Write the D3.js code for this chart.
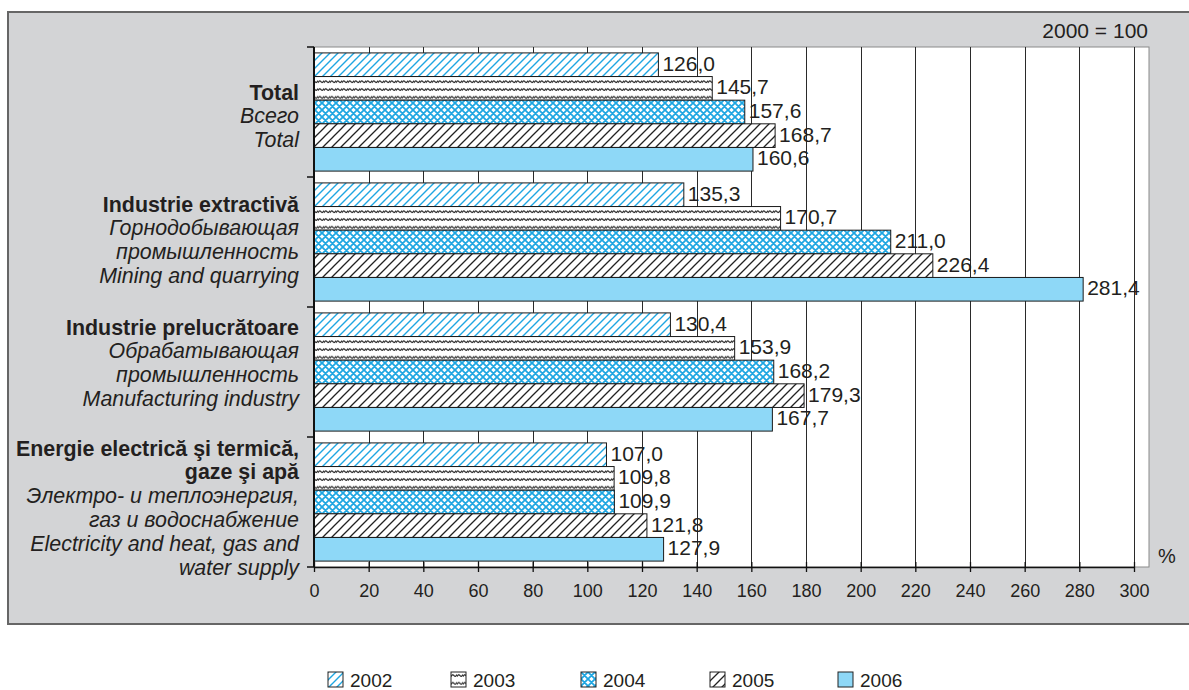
<!DOCTYPE html>
<html><head><meta charset="utf-8">
<script src="https://cdn.jsdelivr.net/npm/d3@7"></script>
<style>
html,body{margin:0;padding:0;background:#fff;}
svg{display:block;font-family:"Liberation Sans",Arial,Helvetica,sans-serif;}
</style></head>
<body>
<svg id="chart" width="1189" height="690"></svg>
<script>
// ---- data ----
const categories = ["Total", "Extractive", "Manufacturing", "Energy"];
const categoryLabels = [
  ["Total", "Всего", "Total"],
  ["Industrie extractivă", "Горнодобывающая", "промышленность", "Mining and quarrying"],
  ["Industrie prelucrătoare", "Обрабатывающая", "промышленность", "Manufacturing industry"],
  ["Energie electrică şi termică,", "gaze şi apă", "Электро- и теплоэнергия,", "газ и водоснабжение", "Electricity and heat, gas and", "water supply"]
];
const boldLineCount = [1, 1, 1, 2];
const years = ["2002", "2003", "2004", "2005", "2006"];
const values2002 = [126.0, 135.3, 130.4, 107.0];
const values2003 = [145.7, 170.7, 153.9, 109.8];
const values2004 = [157.6, 211.0, 168.2, 109.9];
const values2005 = [168.7, 226.4, 179.3, 121.8];
const values2006 = [160.6, 281.4, 167.7, 127.9];
const seriesValues = [values2002, values2003, values2004, values2005, values2006];
const xTicks = [0,20,40,60,80,100,120,140,160,180,200,220,240,260,280,300];
const baseNote = "2000 = 100";
const unitLabel = "%";

// ---- layout ----
const svg = d3.select("#chart");
const textColor = "#231f20";
const blue = "#1ea6e2";
const lightBlue = "#8ed8f7";

const defs = svg.append("defs");
// 2002: blue diagonal
const p1 = defs.append("pattern").attr("id","p2002").attr("patternUnits","userSpaceOnUse")
  .attr("width",8).attr("height",8);
p1.append("rect").attr("width",8).attr("height",8).attr("fill","#fff");
p1.append("path").attr("d","M-2,2 L2,-2 M0,8 L8,0 M6,10 L10,6").attr("stroke",blue).attr("stroke-width",1.4);
// 2003: black waves
const p2 = defs.append("pattern").attr("id","p2003").attr("patternUnits","userSpaceOnUse")
  .attr("width",6).attr("height",7.8);
p2.append("rect").attr("width",6).attr("height",7.8).attr("fill","#fff");
p2.append("path").attr("d","M0,4.5 Q1.5,1.5 3,3.5 T6,2.5").attr("stroke","#222").attr("stroke-width",1.2).attr("fill","none");
// 2004: blue crosshatch
const p3 = defs.append("pattern").attr("id","p2004").attr("patternUnits","userSpaceOnUse")
  .attr("width",7).attr("height",7);
p3.append("rect").attr("width",7).attr("height",7).attr("fill","#fff");
p3.append("path").attr("d","M-1,1 L1,-1 M0,7 L7,0 M6,8 L8,6 M-1,6 L1,8 M0,0 L7,7 M6,-1 L8,1")
  .attr("stroke",blue).attr("stroke-width",1.8);
// 2005: black diagonal
const p4 = defs.append("pattern").attr("id","p2005").attr("patternUnits","userSpaceOnUse")
  .attr("width",9).attr("height",9);
p4.append("rect").attr("width",9).attr("height",9).attr("fill","#fff");
p4.append("path").attr("d","M-2,2 L2,-2 M0,9 L9,0 M7,11 L11,7").attr("stroke","#222").attr("stroke-width",1.3);

const fills = ["url(#p2002)","url(#p2003)","url(#p2004)","url(#p2005)",lightBlue];

// gray panel
svg.append("rect").attr("x",8).attr("y",12).attr("width",1200).attr("height",612)
  .attr("fill","#d3d4d6").attr("stroke","#666").attr("stroke-width",2);

const x = d3.scaleLinear().domain([0,300]).range([314,1134]);
const y = d3.scaleBand().domain(categories).range([47,567]).padding(0);
const yInner = d3.scaleBand().domain(years).range([0,y.bandwidth()]).paddingInner(0).paddingOuter(0.25);

// plot area
svg.append("rect").attr("x",314).attr("y",47).attr("width",1149-314).attr("height",520)
  .attr("fill","#fff").attr("stroke","#8a8a8a").attr("stroke-width",1);

// grid
svg.append("g").selectAll("line").data(xTicks.filter(d=>d>0)).join("line")
  .attr("x1",d=>Math.round(x(d))+0.5).attr("x2",d=>Math.round(x(d))+0.5)
  .attr("y1",47).attr("y2",567).attr("stroke","#2a2a2a").attr("stroke-width",1);

// bars
const groups = svg.append("g").selectAll("g").data(categories).join("g")
  .attr("transform",d=>`translate(0,${y(d)})`);
years.forEach((yr,si)=>{
  groups.append("rect")
    .attr("x",x(0))
    .attr("y",yInner(yr))
    .attr("width",(d,ci)=>x(seriesValues[si][ci])-x(0))
    .attr("height",yInner.bandwidth())
    .attr("fill",fills[si])
    .attr("stroke","#1a1a1a").attr("stroke-width",1);
});
years.forEach((yr,si)=>{
  groups.append("text")
    .attr("x",(d,ci)=>x(seriesValues[si][ci])+4)
    .attr("y",yInner(yr)+yInner.bandwidth()/2+6)
    .attr("font-size",21).attr("fill",textColor)
    .text((d,ci)=>d3.format(".1f")(seriesValues[si][ci]).replace(".",","));
});

// x axis
const xAxis = svg.append("g").attr("transform","translate(0,567)")
  .call(d3.axisBottom(x).tickValues(xTicks).tickSizeInner(5).tickSizeOuter(0).tickPadding(12));
xAxis.select(".domain").attr("stroke","#111").attr("stroke-width",1.5);
xAxis.selectAll(".tick line").attr("stroke","#111").attr("y1",-5).attr("stroke-width",1.3);
xAxis.selectAll(".tick text").attr("font-size",18).attr("fill",textColor)
  .attr("font-family","Liberation Sans, Arial, sans-serif");

// y axis
const yAxisG = svg.append("g");
yAxisG.append("line").attr("x1",314).attr("x2",314).attr("y1",47).attr("y2",567)
  .attr("stroke","#111").attr("stroke-width",2);
yAxisG.selectAll("line.tk").data([...categories.map(c=>y(c)), 567]).join("line").attr("class","tk")
  .attr("x1",307).attr("x2",314).attr("y1",d=>d).attr("y2",d=>d)
  .attr("stroke","#111").attr("stroke-width",1.5);

// category labels
const firstLineOffset = [45, 27, 20, 11];
const lineStep = 23.8;
categories.forEach((c,ci)=>{
  const lines = categoryLabels[ci];
  svg.append("g").selectAll("text").data(lines).join("text")
    .attr("x",299)
    .attr("y",(d,i)=>y(c)+firstLineOffset[ci]+i*lineStep+7.5)
    .attr("text-anchor","end")
    .attr("font-size",21.4)
    .attr("fill",textColor)
    .attr("font-weight",(d,i)=>i<boldLineCount[ci]?"bold":"normal")
    .attr("font-style",(d,i)=>i<boldLineCount[ci]?"normal":"italic")
    .text(d=>d);
});

// notes
svg.append("text").attr("x",1148).attr("y",38).attr("text-anchor","end")
  .attr("font-size",21).attr("fill",textColor).text(baseNote);
svg.append("text").attr("x",1158).attr("y",563)
  .attr("font-size",20).attr("fill",textColor).text(unitLabel);

// legend
const legendX = [328, 451, 581, 710, 838];
const lg = svg.append("g").selectAll("g").data(years).join("g")
  .attr("transform",(d,i)=>`translate(${legendX[i]},672)`);
lg.append("rect").attr("width",15).attr("height",15)
  .attr("fill",(d,i)=>fills[i]).attr("stroke","#222").attr("stroke-width",1);
lg.append("text").attr("x",22).attr("y",15).attr("font-size",19).attr("fill",textColor).text(d=>d);
</script>
</body></html>
